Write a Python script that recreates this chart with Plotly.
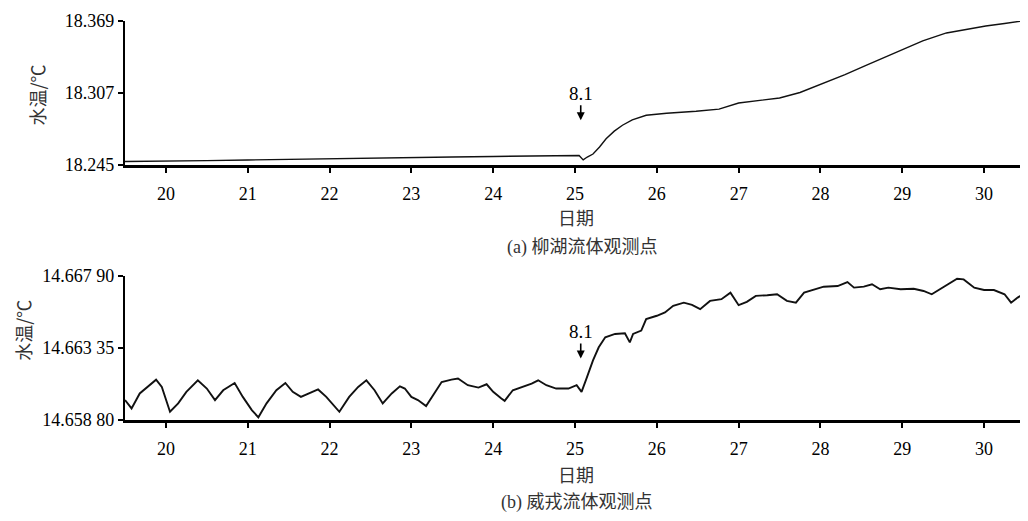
import plotly.graph_objects as go

# ---- (a) 柳湖流体观测点 ----
days_a = [19.5, 20.0, 20.5, 21.0, 21.5, 22.0, 22.5, 23.0, 23.5, 24.0, 24.5, 24.9, 25.05,
          25.1, 25.15, 25.22, 25.3, 25.38, 25.48, 25.58, 25.7, 25.87, 26.12, 26.48, 26.76,
          27.0, 27.25, 27.5, 27.75, 28.07, 28.3, 28.55, 28.8, 29.0, 29.25, 29.54, 29.8,
          30.02, 30.25, 30.46]
temp_a = [18.2480, 18.2482, 18.2487, 18.2493, 18.2499, 18.2506, 18.2510, 18.2516, 18.2518,
          18.2523, 18.2527, 18.2533, 18.2531, 18.2493, 18.2518, 18.2544, 18.2604, 18.2675,
          18.2741, 18.2792, 18.2839, 18.2878, 18.2895, 18.2912, 18.2931, 18.2983, 18.3006,
          18.3027, 18.3074, 18.3160, 18.3228, 18.3305, 18.3382, 18.3442, 18.3519, 18.3587,
          18.3621, 18.3647, 18.3668, 18.3690]

# ---- (b) 威戎流体观测点 ----
days_b = [19.50, 19.58, 19.68, 19.78, 19.88, 19.95, 20.05, 20.15, 20.25, 20.39, 20.50, 20.60,
          20.70, 20.84, 20.94, 21.05, 21.13, 21.23, 21.35, 21.46, 21.55, 21.65, 21.76, 21.86,
          21.96, 22.12, 22.24, 22.35, 22.45, 22.55, 22.65, 22.76, 22.86, 22.92, 23.00, 23.08,
          23.18, 23.27, 23.37, 23.49, 23.57, 23.69, 23.82, 23.92, 24.00, 24.10, 24.14, 24.24,
          24.37, 24.47, 24.55, 24.65, 24.77, 24.92, 25.02, 25.08, 25.14, 25.22, 25.29, 25.37,
          25.49, 25.61, 25.67, 25.71, 25.81, 25.87, 26.00, 26.10, 26.20, 26.33, 26.43, 26.53,
          26.65, 26.79, 26.90, 27.00, 27.10, 27.21, 27.35, 27.47, 27.59, 27.70, 27.80, 27.92,
          28.04, 28.21, 28.33, 28.41, 28.53, 28.63, 28.73, 28.83, 28.98, 29.14, 29.26, 29.36,
          29.47, 29.57, 29.67, 29.75, 29.88, 30.00, 30.12, 30.25, 30.33, 30.41, 30.50]
temp_b = [14.66006, 14.65953, 14.66048, 14.66089, 14.66135, 14.66089, 14.65932, 14.65985,
          14.66058, 14.66131, 14.66079, 14.66006, 14.66068, 14.66114, 14.66026, 14.65943,
          14.65897, 14.65985, 14.66068, 14.66114, 14.66058, 14.66026, 14.66048, 14.66073,
          14.66026, 14.65932, 14.66026, 14.66089, 14.66131, 14.66068, 14.65985, 14.66048,
          14.66093, 14.66079, 14.66026, 14.66006, 14.65968, 14.66037, 14.66120, 14.66135,
          14.66142, 14.66100, 14.66085, 14.66106, 14.66058, 14.66016, 14.66001, 14.66068,
          14.66093, 14.66110, 14.66131, 14.66100, 14.66079, 14.66079, 14.66100, 14.66058,
          14.66142, 14.66257, 14.66340, 14.66403, 14.66424, 14.66428, 14.66371, 14.66424,
          14.66445, 14.66518, 14.66539, 14.66560, 14.66602, 14.66622, 14.66608, 14.66581,
          14.66633, 14.66644, 14.66685, 14.66606, 14.66627, 14.66665, 14.66669, 14.66675,
          14.66633, 14.66622, 14.66685, 14.66702, 14.66723, 14.66727, 14.66752, 14.66717,
          14.66723, 14.66738, 14.66707, 14.66717, 14.66707, 14.66710, 14.66696, 14.66675,
          14.66710, 14.66738, 14.66773, 14.66769, 14.66717, 14.66702, 14.66702, 14.66675,
          14.66622, 14.66654, 14.66685]

x_ticks = [20, 21, 22, 23, 24, 25, 26, 27, 28, 29, 30]
x_range = [19.5, 30.5]
y_ticks_a = [18.245, 18.307, 18.369]
y_ticktext_a = ["18.245", "18.307", "18.369"]
y_ticks_b = [14.6588, 14.66335, 14.6679]
y_ticktext_b = ["14.658 80", "14.663 35", "14.667 90"]

event_day = 25.07
event_label = "8.1"
event_tip_a = 18.2835
event_tip_b = 14.66269

y_title = "水温/℃"
x_title = "日期"
caption_a = "(a) 柳湖流体观测点"
caption_b = "(b) 威戎流体观测点"

LAT = "'Liberation Serif', 'Times New Roman', 'DejaVu Serif', serif"
MIX = "'Liberation Serif', 'Times New Roman', 'Noto Sans CJK SC', serif"
CJK = "'Noto Sans CJK SC', sans-serif"

fig = go.Figure()
fig.add_trace(go.Scatter(x=days_a, y=temp_a, mode="lines",
                         line=dict(color="#111", width=1.4), xaxis="x", yaxis="y",
                         showlegend=False, hoverinfo="skip"))
fig.add_trace(go.Scatter(x=days_b, y=temp_b, mode="lines",
                         line=dict(color="#111", width=1.9), xaxis="x2", yaxis="y2",
                         showlegend=False, hoverinfo="skip"))

xcommon = dict(range=x_range, tickvals=x_ticks, showline=True, linecolor="black",
               linewidth=2.5, ticks="outside", ticklen=5, tickwidth=1.5, tickcolor="black",
               showgrid=False, zeroline=False, ticklabelstandoff=6,
               tickfont=dict(family=LAT, size=18, color="black"))
ycommon = dict(showline=True, linecolor="black", linewidth=2.2, ticks="outside",
               ticklen=5, tickwidth=1.5, tickcolor="black", showgrid=False, zeroline=False,
               tickfont=dict(family=LAT, size=18, color="black"))

fig.update_layout(
    width=1020, height=513,
    margin=dict(l=117, r=3, t=10, b=101),
    paper_bgcolor="white", plot_bgcolor="white",
    xaxis=dict(domain=[0, 1], anchor="y", **xcommon),
    yaxis=dict(domain=[0.6393, 1.0], anchor="x", range=[18.245, 18.369],
               tickvals=y_ticks_a, ticktext=y_ticktext_a, **ycommon),
    xaxis2=dict(domain=[0, 1], anchor="y2", **xcommon),
    yaxis2=dict(domain=[0.0, 0.3607], anchor="x2", range=[14.6588, 14.6679],
                tickvals=y_ticks_b, ticktext=y_ticktext_b, **ycommon),
)

anns = []
for xr, yr, tip in [("x", "y", event_tip_a), ("x2", "y2", event_tip_b)]:
    anns.append(dict(x=event_day, y=tip, xref=xr, yref=yr, text=event_label,
                     showarrow=True, arrowhead=2, arrowsize=1, arrowwidth=1.6,
                     arrowcolor="black", ax=0, ay=-27,
                     font=dict(family=LAT, size=19, color="black")))
anns.append(dict(x=-0.0978, y=0.8159, xref="paper", yref="paper", text=y_title,
                 textangle=-90, showarrow=False, xanchor="center", yanchor="middle",
                 font=dict(family=CJK, size=18, color="#333")))
anns.append(dict(x=-0.1133, y=0.2239, xref="paper", yref="paper", text=y_title,
                 textangle=-90, showarrow=False, xanchor="center", yanchor="middle",
                 font=dict(family=CJK, size=18, color="#333")))
for x, y, t in [(0.5011, 0.505, x_title), (0.5078, 0.4328, caption_a),
                (0.5011, -0.1393, x_title), (0.5022, -0.2065, caption_b)]:
    anns.append(dict(x=x, y=y, xref="paper", yref="paper", text=t, showarrow=False,
                     xanchor="center", yanchor="middle",
                     font=dict(family=MIX, size=18, color="#333")))
fig.update_layout(annotations=anns)

fig.write_html("out.html")
